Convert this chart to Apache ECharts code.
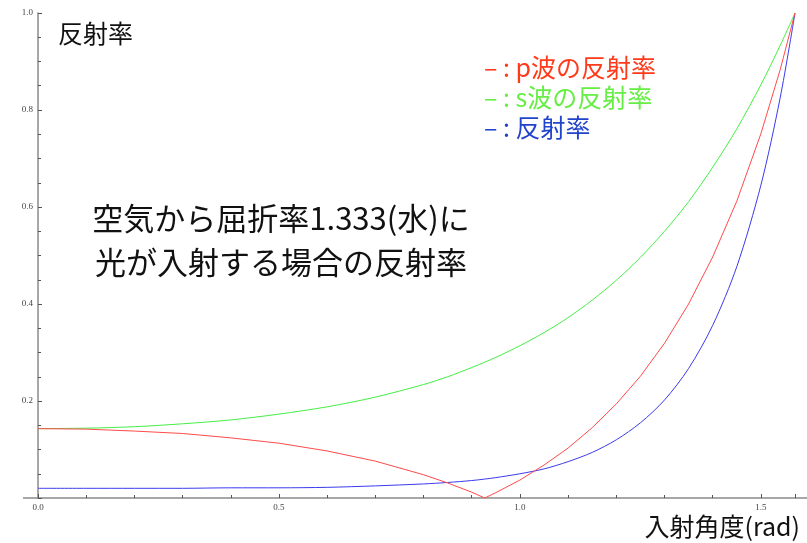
<!DOCTYPE html>
<html>
<head>
<meta charset="utf-8">
<script src="https://cdn.jsdelivr.net/npm/echarts@6/dist/echarts.min.js"></script>
<style>
  html, body { margin: 0; padding: 0; background: #fff; }
  #chart { width: 807px; height: 543px; }
</style>
</head>
<body>
<div id="chart"></div>
<script>
// 入射角 (rad)
const angles = [0, 0.1, 0.2, 0.3, 0.4, 0.5, 0.6, 0.7, 0.8, 0.85, 0.9, 0.927, 0.95, 1.0, 1.05, 1.1, 1.15, 1.2, 1.25, 1.3, 1.35, 1.4, 1.45, 1.5, 1.54, 1.5708];
// p波 (赤)
const pWave = [0.143, 0.142, 0.138, 0.133, 0.124, 0.113, 0.097, 0.076, 0.048, 0.031, 0.012, 0.0, 0.011, 0.037, 0.068, 0.103, 0.145, 0.194, 0.251, 0.319, 0.400, 0.497, 0.612, 0.751, 0.883, 1.0];
// s波 (緑)
const sWave = [0.143, 0.144, 0.147, 0.153, 0.161, 0.173, 0.188, 0.208, 0.234, 0.250, 0.269, 0.280, 0.290, 0.314, 0.341, 0.372, 0.408, 0.449, 0.496, 0.550, 0.611, 0.682, 0.761, 0.852, 0.933, 1.0];
// 反射率 (青)
const reflect = [0.020, 0.020, 0.020, 0.020, 0.021, 0.021, 0.022, 0.025, 0.029, 0.032, 0.036, 0.039, 0.042, 0.050, 0.060, 0.075, 0.094, 0.120, 0.155, 0.202, 0.267, 0.356, 0.477, 0.645, 0.825, 1.0];

const seriesNames = ['p波の反射率', 's波の反射率', '反射率'];
const legendColors = ['#ff3a1a', '#66ee44', '#2244cc'];
const lineColors = ['#ff4a4a', '#44ee44', '#3a3aee'];

const chart = echarts.init(document.getElementById('chart'));
const font = '"Noto Sans CJK JP", sans-serif';

function pairs(ys) {
  return angles.map((x, i) => [x, ys[i]]);
}

const option = {
  animation: false,
  backgroundColor: '#fff',
  grid: { left: 38, right: 12, top: 13, bottom: 45, containLabel: false },
  legend: {
    orient: 'vertical',
    left: 474,
    top: 50,
    icon: 'none',
    itemWidth: 0,
    itemGap: 5,
    selectedMode: false,
    formatter: name => '– : ' + name,
    textStyle: { fontFamily: font, fontSize: 25 },
    data: seriesNames.map((n, i) => ({ name: n, textStyle: { color: legendColors[i] } }))
  },
  xAxis: {
    type: 'value',
    min: 0,
    max: 1.5708,
    interval: 0.5,
    splitLine: { show: false },
    axisLine: { lineStyle: { color: '#8a8a8a', width: 1.5 } },
    axisTick: { inside: true, length: 4, lineStyle: { color: '#555' } },
    minorTick: { show: true, splitNumber: 5, length: 3, lineStyle: { color: '#555' } },
    axisLabel: {
      margin: 5,
      fontFamily: '"Liberation Serif", serif',
      fontSize: 9,
      color: '#444',
      formatter: v => v.toFixed(1),
      showMaxLabel: false
    }
  },
  yAxis: {
    type: 'value',
    min: 0,
    max: 1,
    interval: 0.2,
    splitLine: { show: false },
    axisLine: { lineStyle: { color: '#8a8a8a', width: 1.5 } },
    axisTick: { inside: true, length: 4, lineStyle: { color: '#555' } },
    minorTick: { show: true, splitNumber: 4, length: 3, lineStyle: { color: '#555' } },
    axisLabel: {
      margin: 5,
      fontFamily: '"Liberation Serif", serif',
      fontSize: 9,
      color: '#444',
      formatter: v => (v === 0 ? '' : v.toFixed(1))
    }
  },
  series: [pWave, sWave, reflect].map((d, i) => ({
    name: seriesNames[i],
    type: 'line',
    data: pairs(d),
    showSymbol: false,
    // p波は反射率0の点で折れるので平滑化しない
    smooth: i === 0 ? false : 0.3,
    lineStyle: { color: lineColors[i], width: 1 },
    itemStyle: { color: legendColors[i] },
    z: 3 - i
  })),
  graphic: [
    { type: 'line', shape: { x1: 23, y1: 498, x2: 38, y2: 498 }, style: { stroke: '#8a8a8a', lineWidth: 1.5 } },
    { type: 'line', shape: { x1: 795, y1: 498, x2: 807, y2: 498 }, style: { stroke: '#8a8a8a', lineWidth: 1.5 } },
    { type: 'text', left: 58, top: 21, style: { text: '反射率', font: '25px ' + font, fill: '#111' } },
    {
      type: 'text', x: 281, y: 240,
      style: {
        text: '空気から屈折率1.333(水)に\n光が入射する場合の反射率',
        font: '31px ' + font, fill: '#111',
        align: 'center', verticalAlign: 'middle', lineHeight: 44
      }
    },
    { type: 'text', right: 7, top: 514, style: { text: '入射角度(rad)', font: '25px ' + font, fill: '#111' } }
  ]
};

chart.setOption(option);
</script>
</body>
</html>
